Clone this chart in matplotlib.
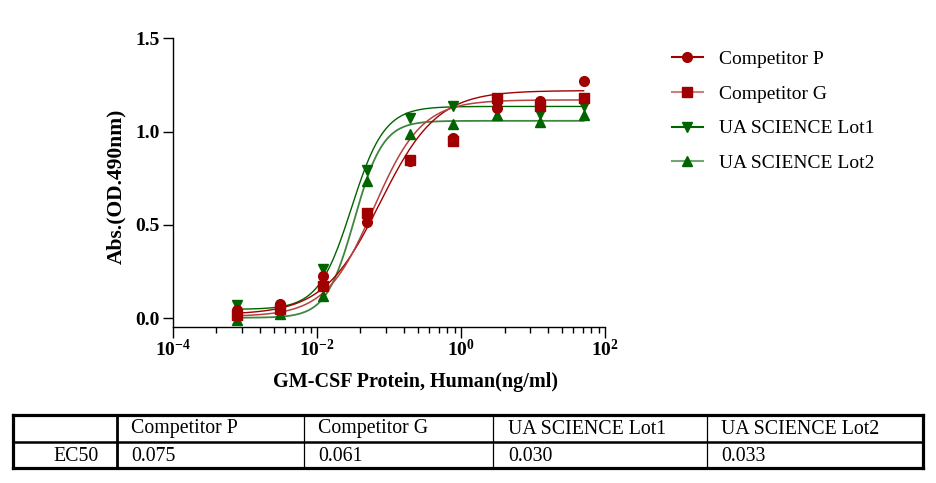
import numpy as np
import matplotlib
matplotlib.use("Agg")
import matplotlib.pyplot as plt
from matplotlib.lines import Line2D
from matplotlib.ticker import FixedLocator, FuncFormatter, NullFormatter

plt.rcParams['font.family'] = ['Liberation Serif', 'DejaVu Serif']
plt.rcParams['mathtext.fontset'] = 'custom'
plt.rcParams['mathtext.bf'] = 'Liberation Serif:bold'
plt.rcParams['mathtext.rm'] = 'Liberation Serif:bold'

# ---------------- data ----------------
conc = [0.000763, 0.00305, 0.0122, 0.0488, 0.195, 0.781, 3.125, 12.5, 50.0]
series_names = ["Competitor P", "Competitor G", "UA SCIENCE Lot1", "UA SCIENCE Lot2"]
comp_p = [0.045, 0.077, 0.225, 0.518, 0.845, 0.964, 1.124, 1.162, 1.270]
comp_g = [0.018, 0.048, 0.171, 0.563, 0.847, 0.952, 1.178, 1.135, 1.182]
lot1 = [0.071, 0.055, 0.266, 0.797, 1.072, 1.138, 1.130, 1.094, 1.140]
lot2 = [-0.010, 0.023, 0.120, 0.734, 0.986, 1.040, 1.088, 1.054, 1.090]

# 4PL fit parameters (bottom, top, EC50, hill)
fit_bottom = [0.020, 0.010, 0.048, 0.003]
fit_top = [1.220, 1.170, 1.135, 1.058]
ec50 = [0.075, 0.061, 0.030, 0.033]
fit_hill = [1.10, 1.30, 1.90, 2.20]
ec50_labels = ["0.075", "0.061", "0.030", "0.033"]

# ---------------- style ----------------
marker_colors = ["#A00000", "#A00000", "#006400", "#006400"]
line_colors = ["#A00000", "#B84040", "#006400", "#3F873F"]
legend_line_colors = ["#A00000", "#D08080", "#006400", "#70A870"]
line_widths = [1.0, 1.1, 1.0, 1.3]
markers = ["o", "s", "v", "^"]

fig = plt.figure(figsize=(9.37, 4.83), dpi=100)
W, H = 937.0, 483.0
ax = fig.add_axes([173 / W, 1 - 327.3 / H, (605.3 - 173) / W, (327.3 - 38.3) / H])

values = [comp_p, comp_g, lot1, lot2]
xfit = np.logspace(np.log10(conc[0]), np.log10(conc[-1]), 300)
order = [2, 3, 0, 1]
for i in order:
    yfit = fit_bottom[i] + (fit_top[i] - fit_bottom[i]) / (1 + (ec50[i] / xfit) ** fit_hill[i])
    ax.plot(xfit, yfit, color=line_colors[i], lw=line_widths[i], zorder=2)
for i in order:
    ax.plot(conc, values[i], linestyle="none", marker=markers[i], ms=7,
            color=marker_colors[i], mec=marker_colors[i], zorder=3)

ax.set_xscale("log")
ax.set_xlim(1e-4, 1e2)
ax.set_ylim(-0.048, 1.5)
ax.xaxis.set_major_locator(FixedLocator([1e-4, 1e-2, 1e0, 1e2]))
minor = [10.0 ** e * k * k for e in (-4, -2, 0) for k in range(2, 10)]
ax.xaxis.set_minor_locator(FixedLocator(minor))
ax.xaxis.set_minor_formatter(NullFormatter())
ax.xaxis.set_major_formatter(FuncFormatter(lambda v, p: r"$\mathbf{10^{%d}}$" % int(round(np.log10(v)))))
ax.set_yticks([0.0, 0.5, 1.0, 1.5])
ax.yaxis.set_major_formatter(FuncFormatter(lambda v, p: "%.1f" % v))

for s in ["top", "right"]:
    ax.spines[s].set_visible(False)
for s in ["left", "bottom"]:
    ax.spines[s].set_linewidth(1.0)
ax.tick_params(axis="x", which="major", direction="out", length=8, width=1.0, pad=0.5, labelsize=14)
ax.tick_params(axis="x", which="minor", direction="out", length=4.5, width=1.0)
ax.tick_params(axis="y", which="major", direction="out", length=7.5, width=1.0, pad=2, labelsize=14)
for lab in ax.get_yticklabels():
    lab.set_fontweight("bold")

ax.set_xlabel("GM-CSF Protein, Human(ng/ml)", fontsize=14.5, fontweight="bold")
ax.xaxis.set_label_coords(0.561, -0.155)
ax.set_ylabel("Abs.(OD.490nm)", fontsize=15.5, fontweight="bold")
ax.yaxis.set_label_coords(-0.108, 0.488)

# legend
handles = [Line2D([0], [0], color=legend_line_colors[i], lw=1.5, marker=markers[i], ms=7,
                  mfc=marker_colors[i], mec=marker_colors[i]) for i in range(4)]
fig.legend(handles, series_names, loc="upper left", bbox_to_anchor=(664 / W, 1 - 42.5 / H),
           frameon=False, fontsize=14, handlelength=1.6, handletextpad=0.85,
           labelspacing=0.88, borderaxespad=0)

# ---------------- table ----------------
col_edges = [13.3, 116.7, 304.0, 493.3, 706.7, 923.0]
row_edges = [415.0, 442.0, 467.7]

def fx(px):
    return px / W

def fy(py):
    return 1 - py / H

x0, x1 = col_edges[0], col_edges[-1]
y0, y1 = row_edges[0], row_edges[-1]
for xa, ya, xb, yb in [(x0, y0, x1, y0), (x0, y1, x1, y1), (x0, y0, x0, y1), (x1, y0, x1, y1)]:
    fig.add_artist(Line2D([fx(xa), fx(xb)], [fy(ya), fy(yb)], color="black", lw=2.3,
                          solid_capstyle="projecting"))
fig.add_artist(Line2D([fx(x0), fx(x1)], [fy(row_edges[1])] * 2, color="black", lw=1.8))
for j, cx in enumerate(col_edges[1:-1]):
    lw = 2.0 if j == 0 else 0.9
    fig.add_artist(Line2D([fx(cx), fx(cx)], [fy(y0), fy(y1)], color="black", lw=lw))

row_mid = [(row_edges[0] + row_edges[1]) / 2 + 0.5, (row_edges[1] + row_edges[2]) / 2 + 1.5]
for j, name in enumerate(series_names):
    fig.text(fx(col_edges[j + 1] + 14.5), fy(row_mid[0]), name, fontsize=14.3, ha="left", va="center")
    fig.text(fx(col_edges[j + 1] + 14.5), fy(row_mid[1]), ec50_labels[j], fontsize=14.3, ha="left", va="center")
fig.text(fx(col_edges[1] - 18), fy(row_mid[1]), "EC50", fontsize=14.3, ha="right", va="center")

fig.savefig("out.png", dpi=100)
